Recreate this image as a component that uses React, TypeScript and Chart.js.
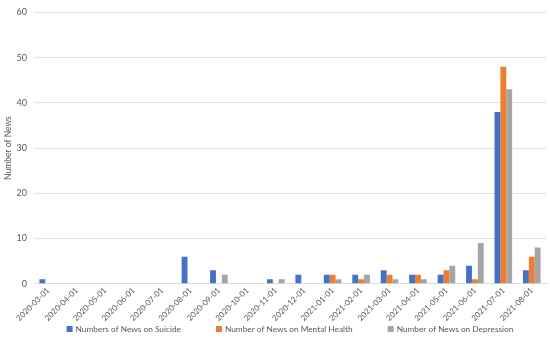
import React, { useEffect, useRef } from "react";
import { Chart, registerables } from "chart.js";

Chart.register(...registerables);

const categories = [
  "2020-03-01", "2020-04-01", "2020-05-01", "2020-06-01", "2020-07-01", "2020-08-01",
  "2020-09-01", "2020-10-01", "2020-11-01", "2020-12-01", "2021-01-01", "2021-02-01",
  "2021-03-01", "2021-04-01", "2021-05-01", "2021-06-01", "2021-07-01", "2021-08-01",
];
const suicide = [1, 0, 0, 0, 0, 6, 3, 0, 1, 2, 2, 2, 3, 2, 2, 4, 38, 3];
const mentalHealth = [0, 0, 0, 0, 0, 0, 0, 0, 0, 0, 2, 1, 2, 2, 3, 1, 48, 6];
const depression = [0, 0, 0, 0, 0, 0, 2, 0, 1, 0, 1, 2, 1, 1, 4, 9, 43, 8];
const seriesNames = [
  "Numbers of News on Suicide",
  "Number of News on Mental Health",
  "Number of News on Depression",
];
const yTitle = "Number of News";

const FONT = "Lato, 'Open Sans', sans-serif";
const TEXT = "#595959";

// Legend drawn below the axis labels, centred on the plot area (as in the reference)
const bottomLegend = {
  id: "bottomLegend",
  afterDraw(chart: any) {
    const ctx = chart.ctx;
    const ca = chart.chartArea;
    ctx.save();
    ctx.font = `8.3px ${FONT}`;
    ctx.textBaseline = "middle";
    ctx.textAlign = "left";
    const box = 6;
    const boxGap = 3;
    const itemGap = 35;
    const items = chart.data.datasets.map((ds: any) => ({
      text: ds.label,
      color: ds.backgroundColor,
      w: ctx.measureText(ds.label).width,
    }));
    const total =
      items.reduce((s: number, it: any) => s + box + boxGap + it.w, 0) + itemGap * (items.length - 1);
    let x = (ca.left + ca.right) / 2 - total / 2;
    const y = chart.height - 11;
    for (const it of items) {
      ctx.fillStyle = it.color;
      ctx.fillRect(x, y - box / 2, box, box);
      x += box + boxGap;
      ctx.fillStyle = TEXT;
      ctx.fillText(it.text, x, y);
      x += it.w + itemGap;
    }
    ctx.restore();
  },
};

export default function App() {
  const ref = useRef<HTMLCanvasElement>(null);
  useEffect(() => {
    if (!ref.current) return;
    const chart = new Chart(ref.current, {
      type: "bar",
      data: {
        labels: categories,
        datasets: [
          { label: seriesNames[0], data: suicide, backgroundColor: "#4472C4" },
          { label: seriesNames[1], data: mentalHealth, backgroundColor: "#ED7D31" },
          { label: seriesNames[2], data: depression, backgroundColor: "#A5A5A5" },
        ],
      },
      plugins: [bottomLegend],
      options: {
        animation: false,
        responsive: false,
        maintainAspectRatio: false,
        layout: { padding: { left: 0, right: 4, top: -2, bottom: 15 } },
        datasets: { bar: { categoryPercentage: 0.62, barPercentage: 1 } },
        plugins: {
          legend: { display: false },
          tooltip: { enabled: false },
        },
        scales: {
          x: {
            grid: { display: false, drawTicks: false },
            border: { color: "#d9d9d9" },
            ticks: {
              maxRotation: 45,
              minRotation: 45,
              autoSkip: false,
              color: TEXT,
              padding: 2,
              font: { family: FONT, size: 8 },
            },
          },
          y: {
            min: 0,
            max: 60,
            afterFit: (scale: any) => {
              scale.width = 34;
            },
            ticks: { stepSize: 10, color: TEXT, padding: 7, font: { family: FONT, size: 9 } },
            grid: { color: "#e0e0e0", drawTicks: false },
            border: { display: false },
            title: {
              display: true,
              text: yTitle,
              color: TEXT,
              font: { family: FONT, size: 8.5 },
              padding: 3,
            },
          },
        },
      },
    });
    return () => chart.destroy();
  }, []);
  return (
    <div style={{ position: "absolute", left: 0, top: 0, width: 550, height: 340, background: "#fff" }}>
      <canvas ref={ref} width={550} height={340} />
    </div>
  );
}
